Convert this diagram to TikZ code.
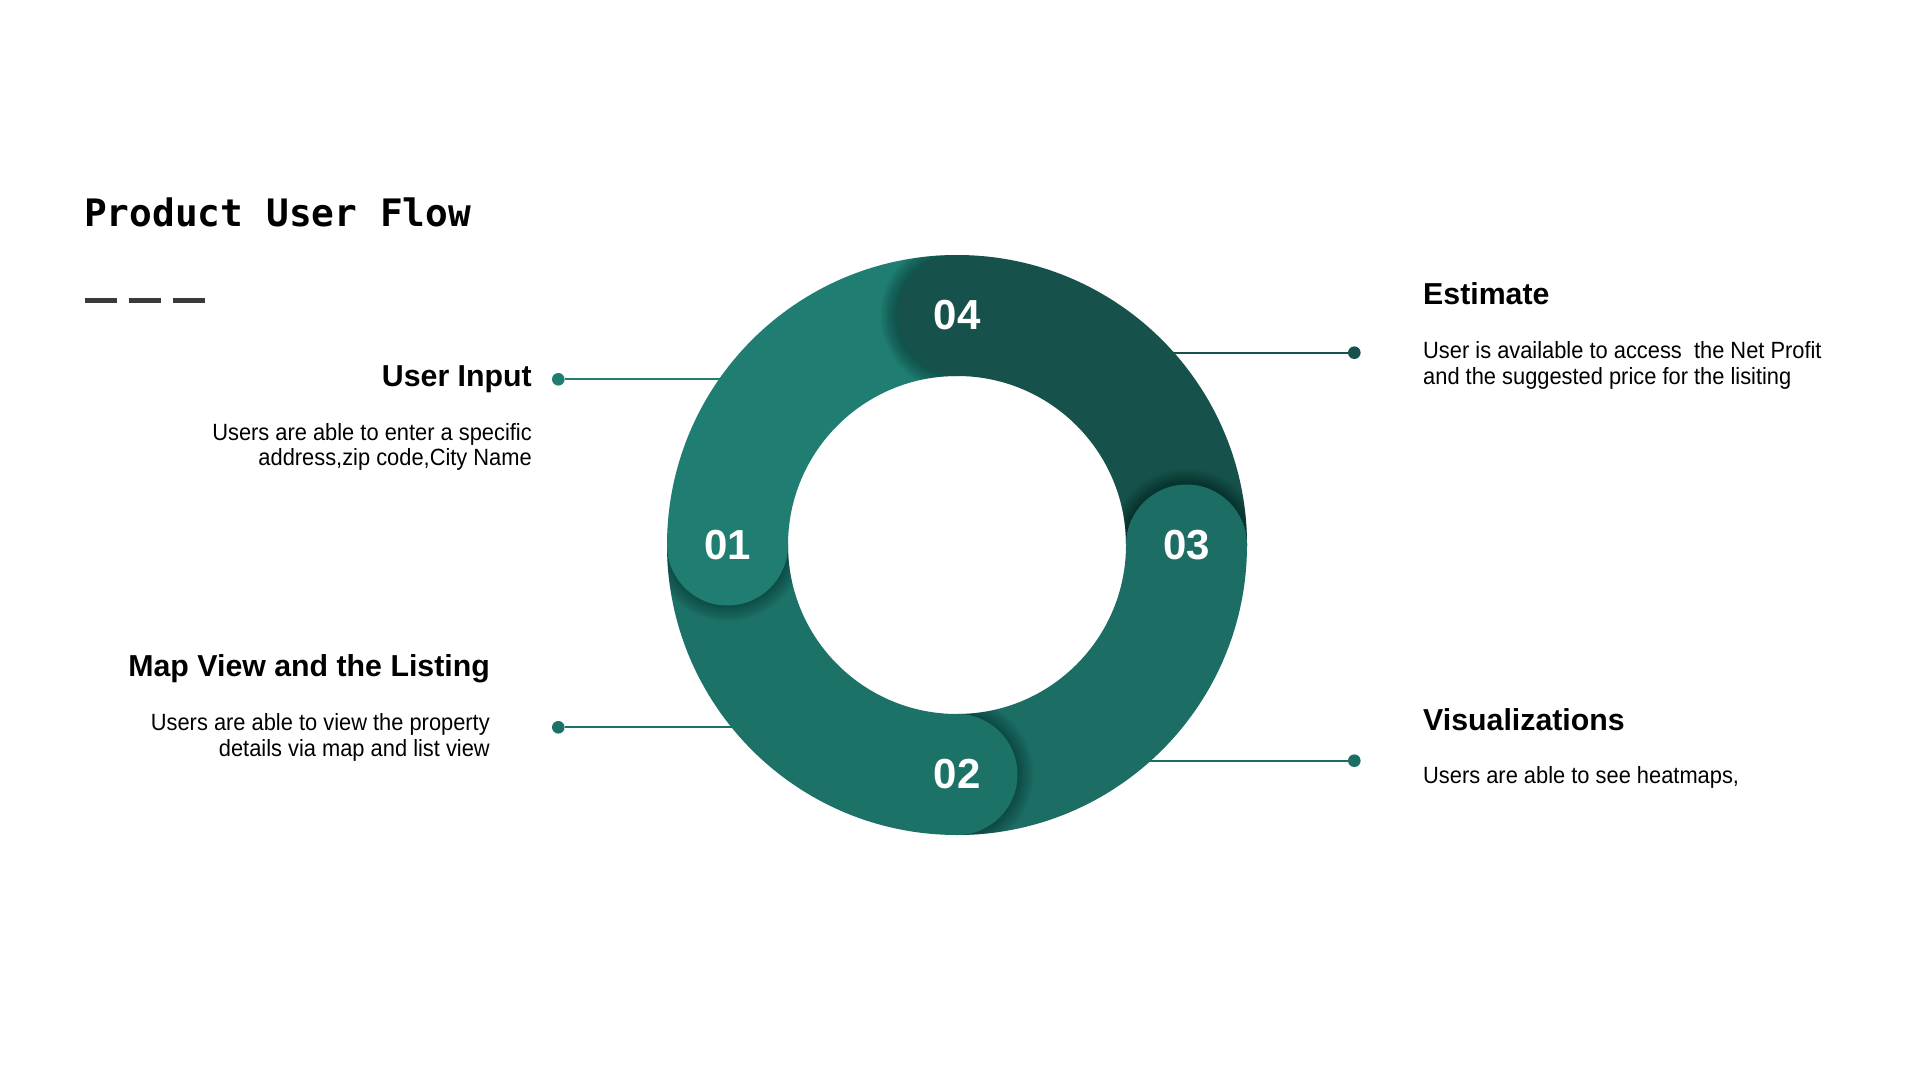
\documentclass[tikz,border=0pt]{standalone}
\usepackage{fontspec}
\setmainfont{Liberation Sans}
\newfontfamily\headfont{Liberation Sans}
\newfontfamily\bodyfont{Liberation Sans}[FakeStretch=0.93]
\newfontfamily\titlefont{DejaVu Sans Mono}

\definecolor{tealA}{HTML}{1F7D71}
\definecolor{tealB}{HTML}{1D7268}
\definecolor{tealC}{HTML}{1C6D64}
\definecolor{tealD}{HTML}{16524B}
\definecolor{dashgray}{HTML}{3A3A3A}

% annular sector of the ring: colour, start angle, end angle
\newcommand{\segfill}[3]{%
  \fill[#1] ([shift={(#2:290pt)}]c) arc[start angle=#2, end angle=#3, radius=290pt]
    -- ([shift={(#3:169pt)}]c) arc[start angle=#3, end angle=#2, radius=169pt] -- cycle;}

% soft shadow of a step cap, kept inside the ring and on the side where
% the cap overlaps its neighbour
\newcommand{\capshadow}[3]{%
  \begin{scope}
    \clip #2 rectangle #3;
    \begin{scope}[even odd rule]
      \clip (c) circle[radius=290pt] (c) circle[radius=169pt];
      \foreach \k in {1,...,16}
        \fill[black, opacity=0.02] ([shift={(#1:229.5pt)}]c) circle[radius=60.5pt+\k pt];
    \end{scope}
  \end{scope}}

\begin{document}
\begin{tikzpicture}[x=1pt, y=1pt,
  heading/.style={inner sep=0pt, font=\headfont\bfseries\fontsize{30.3}{32}\selectfont, text=black},
  bodytext/.style={inner sep=0pt, font=\bodyfont\fontsize{23.5}{25.7}\selectfont, text=black},
  dot/.style={circle, inner sep=0pt, minimum size=12.6pt},
  link/.style={line width=2.2pt},
  capnum/.style={circle, inner sep=0pt, minimum size=121pt, text=white,
    font=\headfont\bfseries\fontsize{42}{44}\selectfont}
]
\useasboundingbox (0,0) rectangle (1917,-1075);
\fill[white] (0,0) rectangle (1917,-1075);

% title and dashed rule
\node[anchor=base west, inner sep=0pt, font=\titlefont\bfseries\fontsize{37.8}{40}\selectfont] (title) at (84,-227) {Product User Flow};
\draw[dashgray, line width=4.3pt, dash pattern=on 32pt off 12pt] (85,-300.5) -- (205,-300.5);

\coordinate (c) at (957,-545);

% leader lines (drawn first so the ring covers their ends)
\node[dot, fill=tealA] (d1) at (558.3,-379.3) {};
\coordinate (e1) at (724,-379.3);
\draw[link, tealA] (d1) -- (e1);

\node[dot, fill=tealB] (d2) at (558.3,-727.3) {};
\coordinate (e2) at (737,-727.3);
\draw[link, tealB] (d2) -- (e2);

\node[dot, fill=tealD] (d4) at (1354.3,-352.7) {};
\coordinate (e4) at (1168,-352.7);
\draw[link, tealD] (e4) -- (d4);

\node[dot, fill=tealC] (d3) at (1354.3,-760.7) {};
\coordinate (e3) at (1145,-760.7);
\draw[link, tealC] (e3) -- (d3);

% ring sectors
\segfill{tealD}{90}{0}
\segfill{tealC}{0}{-90}
\segfill{tealB}{-90}{-180}
\segfill{tealA}{180}{90}

% cap shadows
\capshadow{90}{(0,0)}{(957,-1075)}
\capshadow{0}{(0,0)}{(1917,-545)}
\capshadow{-90}{(957,0)}{(1917,-1075)}
\capshadow{180}{(0,-545)}{(1917,-1075)}

% step caps with numbers
\node[capnum, fill=tealD] (n4) at ([shift={(90:229.5pt)}]c) {04};
\node[capnum, fill=tealC] (n3) at ([shift={(0:229.5pt)}]c) {03};
\node[capnum, fill=tealB] (n2) at ([shift={(-90:229.5pt)}]c) {02};
\node[capnum, fill=tealA] (n1) at ([shift={(180:229.5pt)}]c) {01};

% step descriptions (multi-line blocks are placed by their last baseline)
\node[heading, anchor=base east] (h1) at (532,-386) {User Input};
\node[bodytext, anchor=base east, align=right] (b1) at (532,-465.7) {Users are able to enter a specific\\address,zip code,City Name};

\node[heading, anchor=base east] (h2) at (490,-676.7) {Map View and the Listing};
\node[bodytext, anchor=base east, align=right] (b2) at (490,-756) {Users are able to view the property\\details via map and list view};

\node[heading, anchor=base west] (h4) at (1423,-305) {Estimate};
\node[bodytext, anchor=base west, align=left] (b4) at (1423,-384) {User is available to access\ \ the Net Profit\\and the suggested price for the lisiting};

\node[heading, anchor=base west] (h3) at (1423,-730) {Visualizations};
\node[bodytext, anchor=base west] (b3) at (1423,-783.3) {Users are able to see heatmaps,};
\end{tikzpicture}
\end{document}
